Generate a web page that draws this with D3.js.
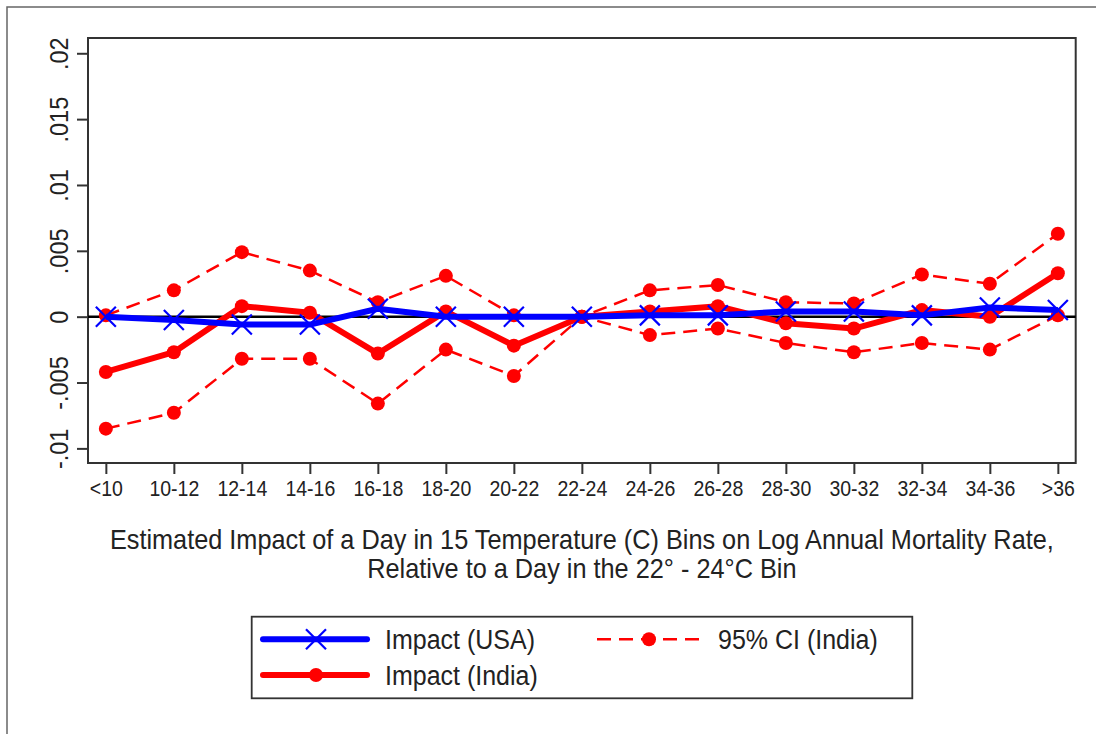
<!DOCTYPE html>
<html>
<head>
<meta charset="utf-8">
<script src="https://cdn.jsdelivr.net/npm/d3@7"></script>
<style>
  html, body { margin: 0; padding: 0; background: #fff; }
  svg { display: block; font-family: "Liberation Sans", Arial, sans-serif; }
</style>
</head>
<body>
<svg id="chart" width="1096" height="734"></svg>
<script>
// ---- Data ----
const categories = ["<10","10-12","12-14","14-16","16-18","18-20","20-22","22-24","24-26","26-28","28-30","30-32","32-34","34-36",">36"];
const impactUSA   = [0, -0.00025, -0.0006, -0.0006, 0.0006, 0, 0, 0, 0.0001, 0.0001, 0.0004, 0.0004, 0.0001, 0.0007, 0.0005];
const impactIndia = [-0.0042, -0.0027, 0.0008, 0.0003, -0.0028, 0.0004, -0.0022, 0, 0.0004, 0.0008, -0.0005, -0.0009, 0.0005, 0.0000, 0.0033];
const ciUpper     = [0.0001, 0.0020, 0.0049, 0.0035, 0.0011, 0.0031, 0.0001, 0, 0.0020, 0.0024, 0.0011, 0.0010, 0.0032, 0.0025, 0.0063];
const ciLower     = [-0.0085, -0.0073, -0.0032, -0.0032, -0.0066, -0.0025, -0.0045, 0, -0.0014, -0.0009, -0.0020, -0.0027, -0.0020, -0.0025, 0.0001];
const yTickValues = [-0.01, -0.005, 0, 0.005, 0.01, 0.015, 0.02];
const yTickLabels = ["-.01", "-.005", "0", ".005", ".01", ".015", ".02"];
const titleLines = ["Estimated Impact of a Day in 15 Temperature (C) Bins on Log Annual Mortality Rate,",
                    "Relative to a Day in the 22\u00B0 - 24\u00B0C Bin"];
const legendLabels = ["Impact (USA)", "Impact (India)", "95% CI (India)"];

// ---- Layout ----
const plot = { left: 88, right: 1075.7, top: 38, bottom: 463 };
const BLUE = "#0000ff", RED = "#ff0000";
const R = 7;

const svg = d3.select("#chart");

// outer frame (only top/left visible in the reference)
svg.append("rect").attr("x", 7).attr("y", 7).attr("width", 1200).attr("height", 800)
  .attr("fill", "none").attr("stroke", "#666").attr("stroke-width", 1.5);

const x = d3.scalePoint().domain(categories).range([plot.left, plot.right]).padding(0.2625);
const y = d3.scaleLinear().domain([-0.01111, 0.02116]).range([plot.bottom, plot.top]);

// plot frame
svg.append("rect").attr("x", plot.left).attr("y", plot.top)
  .attr("width", plot.right - plot.left).attr("height", plot.bottom - plot.top)
  .attr("fill", "#fff").attr("stroke", "#333").attr("stroke-width", 2);

// y axis
const yAxis = svg.append("g").attr("transform", `translate(${plot.left},0)`)
  .call(d3.axisLeft(y).tickValues(yTickValues)
    .tickFormat((d, i) => yTickLabels[i]).tickSize(11).tickPadding(0));
yAxis.select(".domain").remove();
yAxis.selectAll(".tick line").attr("stroke", "#333").attr("stroke-width", 2);
yAxis.selectAll(".tick text")
  .attr("x", null).attr("dy", null)
  .attr("transform", "translate(-20,0) rotate(-90) scale(1,1.12)")
  .attr("text-anchor", "middle")
  .attr("font-size", 23.5).attr("fill", "#222");

// x axis
const xAxis = svg.append("g").attr("transform", `translate(0,${plot.bottom})`)
  .call(d3.axisBottom(x).tickSize(11).tickPadding(8));
xAxis.select(".domain").remove();
xAxis.selectAll(".tick line").attr("stroke", "#333").attr("stroke-width", 2);
xAxis.selectAll(".tick text").attr("font-size", 19.5).attr("fill", "#222")
  .attr("y", 0).attr("dy", null)
  .attr("transform", "translate(0,33) scale(1,1.15)");

// zero line
svg.append("line").attr("x1", plot.left).attr("x2", plot.right)
  .attr("y1", y(0)).attr("y2", y(0)).attr("stroke", "#000").attr("stroke-width", 2.5);

const line = d3.line().x((d, i) => x(categories[i])).y(d => y(d));

// CI lines (dashed)
[ciUpper, ciLower].forEach(arr => {
  svg.append("path").attr("d", line(arr)).attr("fill", "none")
    .attr("stroke", RED).attr("stroke-width", 2.5).attr("stroke-dasharray", "14,8");
  svg.append("g").selectAll("circle").data(arr).join("circle")
    .attr("cx", (d, i) => x(categories[i])).attr("cy", d => y(d)).attr("r", R).attr("fill", RED);
});

// India impact
svg.append("path").attr("d", line(impactIndia)).attr("fill", "none")
  .attr("stroke", RED).attr("stroke-width", 6).attr("stroke-linejoin", "round");
svg.append("g").selectAll("circle").data(impactIndia).join("circle")
  .attr("cx", (d, i) => x(categories[i])).attr("cy", d => y(d)).attr("r", R).attr("fill", RED);

// USA impact
svg.append("path").attr("d", line(impactUSA)).attr("fill", "none")
  .attr("stroke", BLUE).attr("stroke-width", 6).attr("stroke-linejoin", "round");
function drawX(g, cx, cy, s) {
  g.append("path").attr("d", `M${cx - s},${cy - s}L${cx + s},${cy + s}M${cx - s},${cy + s}L${cx + s},${cy - s}`)
    .attr("stroke", BLUE).attr("stroke-width", 2.2).attr("fill", "none");
}
const xMarks = svg.append("g");
impactUSA.forEach((d, i) => drawX(xMarks, x(categories[i]), y(d), 10));

// x title
const cx = (plot.left + plot.right) / 2;
svg.append("g").selectAll("text").data(titleLines).join("text")
  .attr("transform", (d, i) => `translate(${cx},${549 + i * 29}) scale(1,1.1)`)
  .attr("text-anchor", "middle").attr("font-size", 25.3).attr("fill", "#222")
  .text(d => d);

// legend
const lg = svg.append("g");
lg.append("rect").attr("x", 251.7).attr("y", 616.7).attr("width", 912.3 - 251.7).attr("height", 698.3 - 616.7)
  .attr("fill", "#fff").attr("stroke", "#333").attr("stroke-width", 1.8);
// USA
lg.append("line").attr("x1", 263).attr("x2", 367).attr("y1", 639.3).attr("y2", 639.3)
  .attr("stroke", BLUE).attr("stroke-width", 6).attr("stroke-linecap", "round");
drawX(lg, 316, 639.3, 10);
// India
lg.append("line").attr("x1", 263).attr("x2", 367).attr("y1", 675).attr("y2", 675)
  .attr("stroke", RED).attr("stroke-width", 6).attr("stroke-linecap", "round");
lg.append("circle").attr("cx", 316).attr("cy", 675).attr("r", R).attr("fill", RED);
// CI
lg.append("line").attr("x1", 597).attr("x2", 702).attr("y1", 639.3).attr("y2", 639.3)
  .attr("stroke", RED).attr("stroke-width", 2.5).attr("stroke-dasharray", "14,8");
lg.append("circle").attr("cx", 649).attr("cy", 639.3).attr("r", R).attr("fill", RED);

const legendPos = [[385, 649], [385, 684.5], [718, 649]];
lg.selectAll("text.lbl").data(legendLabels).join("text").attr("class", "lbl")
  .attr("transform", (d, i) => `translate(${legendPos[i][0]},${legendPos[i][1]}) scale(1,1.12)`)
  .attr("font-size", 25).attr("fill", "#222").text(d => d);
</script>
</body>
</html>
